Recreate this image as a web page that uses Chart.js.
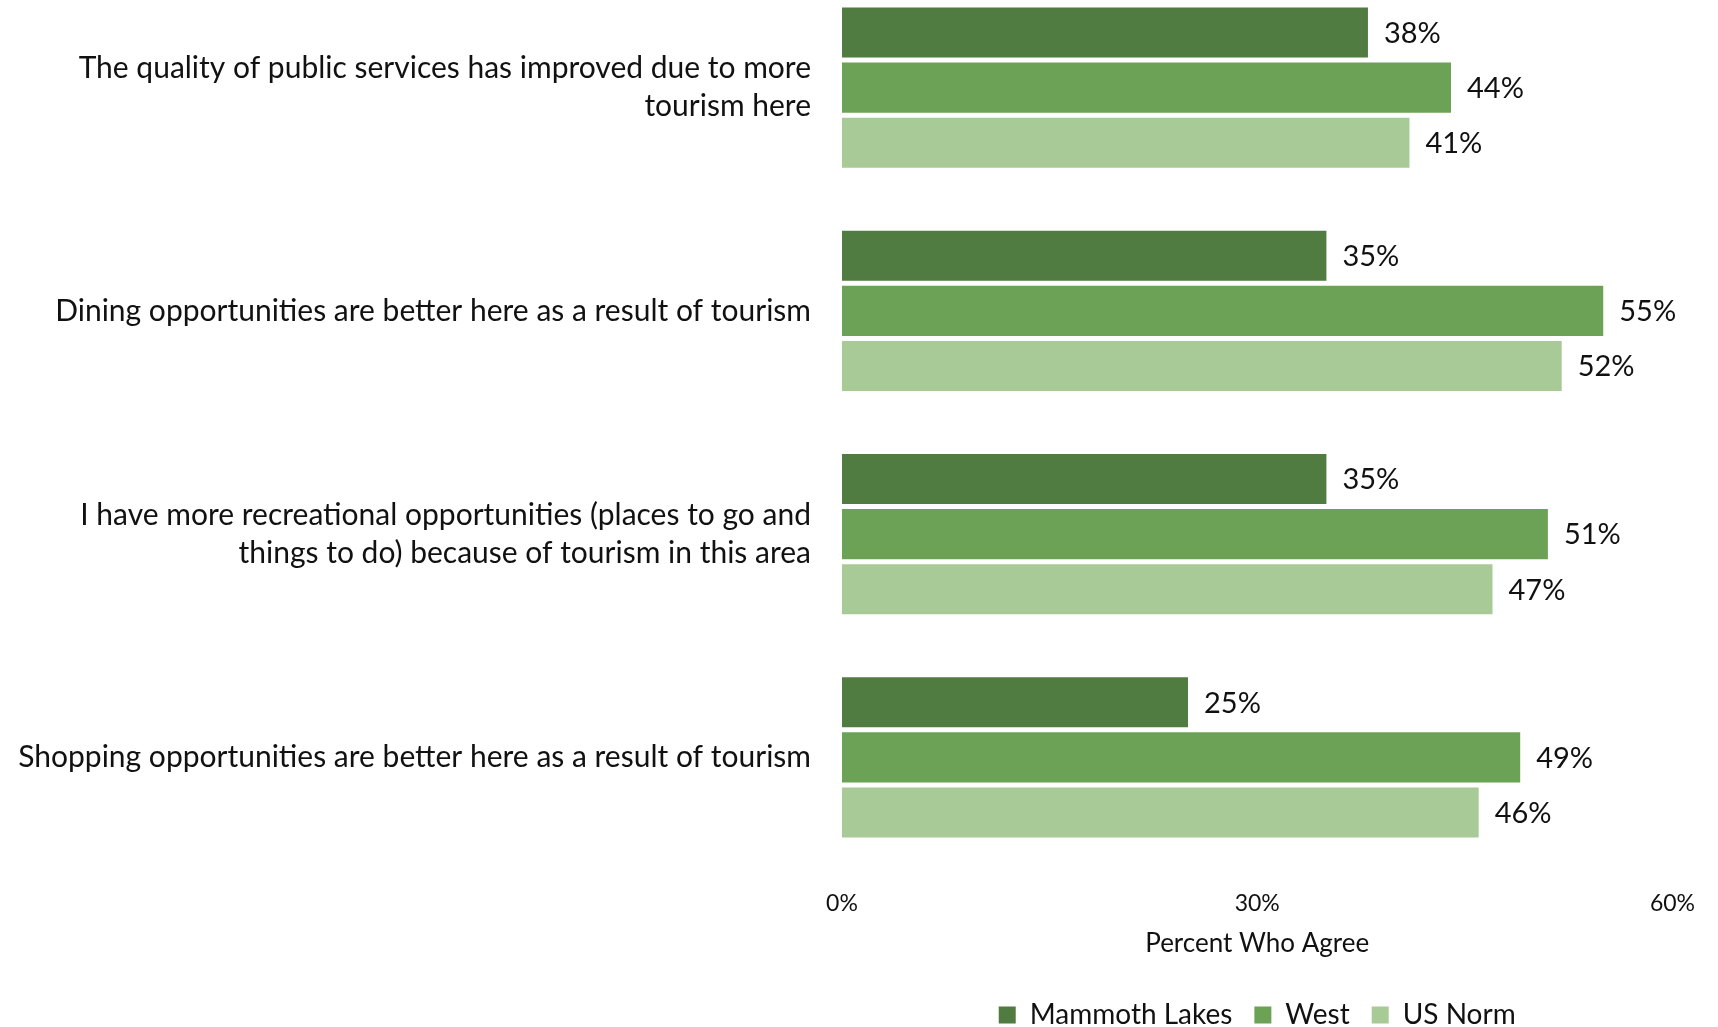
<!DOCTYPE html>
<html>
<head>
<meta charset="utf-8">
<script src="https://cdn.jsdelivr.net/npm/chart.js@4.4.1/dist/chart.umd.min.js"></script>
<style>
  html, body { margin: 0; padding: 0; background: #ffffff; overflow: hidden; }
  #wrap { position: absolute; left: 0; top: -24px; width: 1718px; height: 1063px; }
</style>
</head>
<body>
<div id="wrap"><canvas id="chart"></canvas></div>
<script>
// Statements (y axis), one row per statement
const statements = [
  ['The quality of public services has improved due to more', 'tourism here'],
  'Dining opportunities are better here as a result of tourism',
  ['I have more recreational opportunities (places to go and', 'things to do) because of tourism in this area'],
  'Shopping opportunities are better here as a result of tourism',
];

// Percent who agree, per group
const mammothLakes = [38, 35, 35, 25];
const west = [44, 55, 51, 49];
const usNorm = [41, 52, 47, 46];

const xTicks = [0, 30, 60];

const FONT = 'Lato';
const INK = '#111111';

// draws "NN%" just past the end of each bar
const valueLabels = {
  id: 'valueLabels',
  afterDatasetsDraw(chart) {
    const { ctx } = chart;
    ctx.save();
    ctx.font = `29px ${FONT}`;
    ctx.fillStyle = INK;
    ctx.textAlign = 'left';
    ctx.textBaseline = 'middle';
    chart.data.datasets.forEach((ds, i) => {
      const meta = chart.getDatasetMeta(i);
      meta.data.forEach((bar, j) => {
        ctx.fillText(`${ds.data[j]}%`, bar.x + 16, bar.y + 1);
      });
    });
    ctx.restore();
  },
};

const common = { barPercentage: 0.91, categoryPercentage: 0.74 };

new Chart(document.getElementById('chart'), {
  type: 'bar',
  data: {
    labels: statements,
    datasets: [
      { label: 'Mammoth Lakes', data: mammothLakes, backgroundColor: '#507B41', ...common },
      { label: 'West', data: west, backgroundColor: '#6BA256', ...common },
      { label: 'US Norm', data: usNorm, backgroundColor: '#A8CA96', ...common },
    ],
  },
  options: {
    indexAxis: 'y',
    responsive: true,
    maintainAspectRatio: false,
    animation: false,
    layout: { padding: { top: 0, right: 45, bottom: 0, left: 11 } },
    plugins: {
      legend: {
        position: 'bottom',
        fullSize: false,
        labels: {
          color: INK,
          font: { family: FONT, size: 28 },
          boxWidth: 17,
          boxHeight: 17,
          padding: 22,
        },
      },
      tooltip: { enabled: false },
    },
    scales: {
      x: {
        min: 0,
        max: 60,
        grid: { display: false, drawTicks: false },
        border: { display: false },
        afterBuildTicks: (axis) => { axis.ticks = xTicks.map(v => ({ value: v })); },
        ticks: {
          color: INK,
          font: { family: FONT, size: 23, lineHeight: 1 },
          padding: 23,
          maxRotation: 0,
          callback: (v) => `${v}%`,
        },
        title: {
          display: true,
          text: 'Percent Who Agree',
          color: INK,
          font: { family: FONT, size: 26, lineHeight: 1 },
          padding: { top: -7, bottom: 22 },
        },
      },
      y: {
        grid: { display: false, drawTicks: false },
        border: { display: false },
        // the wrapped labels would otherwise push the plot down
        afterFit: (axis) => { axis.paddingTop = 0; axis.paddingBottom = 0; },
        ticks: {
          color: INK,
          font: { family: FONT, size: 30, lineHeight: 1.27 },
          padding: 31,
        },
      },
    },
  },
  plugins: [valueLabels],
});
</script>
</body>
</html>
